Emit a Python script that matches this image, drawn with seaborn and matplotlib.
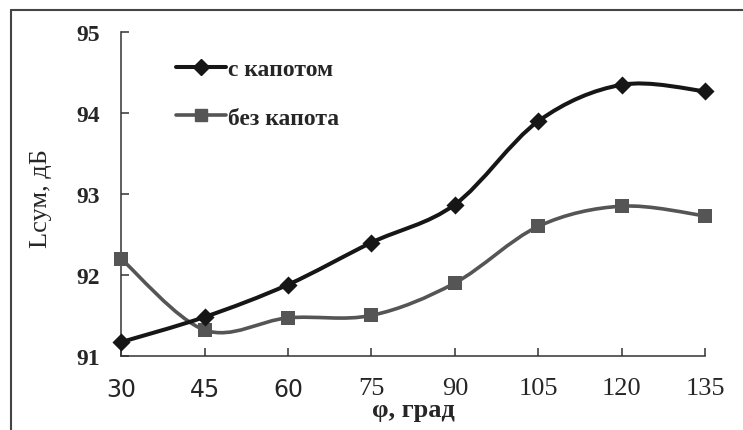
import numpy as np
import pandas as pd
import matplotlib
matplotlib.use('Agg')
import matplotlib.pyplot as plt
from matplotlib.path import Path
from matplotlib.patches import PathPatch
from matplotlib.lines import Line2D
import seaborn as sns

# Data
angles = [30, 45, 60, 75, 90, 105, 120, 135]
with_hood = [91.17, 91.48, 91.88, 92.40, 92.87, 93.90, 94.35, 94.27]
without_hood = [92.20, 91.32, 91.47, 91.50, 91.90, 92.60, 92.85, 92.73]
y_ticks = [91, 92, 93, 94, 95]
label_with = 'с капотом'
label_without = 'без капота'

sns.set_style('ticks')
plt.rcParams['font.family'] = ['Liberation Serif', 'DejaVu Serif']


def smooth_path(x, y):
    # Bezier curve through the points (like Excel "smoothed line")
    pts = np.column_stack([x, y]).astype(float)
    n = len(pts)
    verts = [pts[0]]
    codes = [Path.MOVETO]
    for i in range(n - 1):
        p0 = pts[max(i - 1, 0)]
        p1 = pts[i]
        p2 = pts[i + 1]
        p3 = pts[min(i + 2, n - 1)]
        verts += [p1 + (p2 - p0) / 6, p2 - (p3 - p1) / 6, p2]
        codes += [Path.CURVE4] * 3
    return Path(verts, codes)


fig = plt.figure(figsize=(7.43, 4.31), dpi=100)
ax = fig.add_axes([0.163, 0.172, 0.786, 0.751])

black = '#161616'
gray = '#555555'

df = pd.DataFrame({'angle': angles, 'with': with_hood, 'without': without_hood})

ax.add_patch(PathPatch(smooth_path(df['angle'], df['without']),
                       facecolor='none', edgecolor=gray, lw=2.6, zorder=2, clip_on=False))
ax.add_patch(PathPatch(smooth_path(df['angle'], df['with']),
                       facecolor='none', edgecolor=black, lw=2.9, zorder=3, clip_on=False))

sns.scatterplot(data=df, x='angle', y='without', marker='s', s=90, color=gray,
                edgecolor=gray, linewidth=0, ax=ax, zorder=4, clip_on=False)
sns.scatterplot(data=df, x='angle', y='with', marker='D', s=85, color=black,
                edgecolor=black, linewidth=0, ax=ax, zorder=5, clip_on=False)

ax.set_xlim(30, 135)
ax.set_ylim(91, 95)
ax.set_xticks(angles)
ax.set_yticks(y_ticks)
ax.set_xticklabels([str(a) for a in angles], fontsize=19)
ax.set_yticklabels([str(t) for t in y_ticks], fontsize=17, fontweight='bold')
for lbl in ax.get_xticklabels()[:3]:
    lbl.set_fontfamily('DejaVu Sans')
    lbl.set_fontsize(17)

ax.tick_params(axis='both', direction='in', length=6, width=1.1, color='#333333')
ax.tick_params(axis='x', pad=15)
ax.tick_params(axis='y', pad=15)
for side in ['top', 'right']:
    ax.spines[side].set_visible(False)
for side in ['left', 'bottom']:
    ax.spines[side].set_color('#333333')
    ax.spines[side].set_linewidth(1.1)

ax.set_xlabel('φ, град', fontsize=19, fontweight='bold')
ax.set_ylabel('Lсум, дБ', fontsize=19)
ax.xaxis.set_label_coords(0.5, -0.13)
ax.yaxis.set_label_coords(-0.118, 0.49)

handles = [
    Line2D([], [], color=black, lw=2.9, marker='D', markersize=8),
    Line2D([], [], color=gray, lw=2.6, marker='s', markersize=9),
]
ax.legend(handles, [label_with, label_without], loc='upper left',
          bbox_to_anchor=(0.058, 0.985), frameon=False, handlelength=2.1,
          handletextpad=0.1, labelspacing=1.15,
          prop={'family': 'Liberation Serif', 'size': 17, 'weight': 'bold'})

# frame around the picture (top and left edges visible)
fig.add_artist(Line2D([11 / 743, 1], [1 - 11 / 431, 1 - 11 / 431],
                      transform=fig.transFigure, color='#444444', lw=1.5))
fig.add_artist(Line2D([11 / 743, 11 / 743], [0, 1 - 11 / 431],
                      transform=fig.transFigure, color='#444444', lw=1.5))

fig.savefig('out.png', dpi=100)
